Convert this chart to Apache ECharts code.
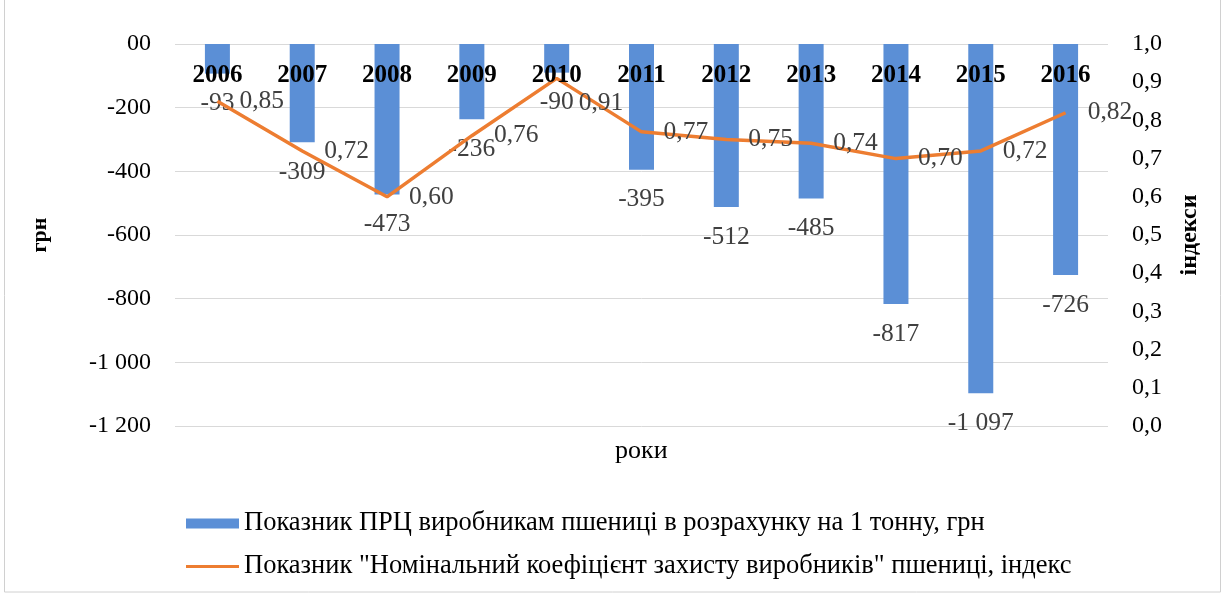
<!DOCTYPE html>
<html>
<head>
<meta charset="utf-8">
<script src="https://cdn.jsdelivr.net/npm/echarts@6/dist/echarts.min.js"></script>
<style>
html,body{margin:0;padding:0;background:#fff;}
#chart{width:1226px;height:597px;}
</style>
</head>
<body>
<div id="chart"></div>
<script>
var years = ['2006','2007','2008','2009','2010','2011','2012','2013','2014','2015','2016'];
var prcValues = [-93, -309, -473, -236, -90, -395, -512, -485, -817, -1097, -726];
var nkzValues = [0.85, 0.72, 0.60, 0.76, 0.91, 0.77, 0.75, 0.74, 0.70, 0.72, 0.82];
var leftTickLabels = ['00', '-200', '-400', '-600', '-800', '-1 000', '-1 200'];
var barName = 'Показник ПРЦ виробникам пшениці в розрахунку на 1 тонну, грн';
var lineName = 'Показник "Номінальний коефіцієнт захисту виробників" пшениці, індекс';

var FONT = '"Liberation Serif", "DejaVu Serif", serif';

function fmtThousands(v) {
  var s = String(Math.abs(v));
  s = s.replace(/\B(?=(\d{3})+(?!\d))/g, ' ');
  return (v < 0 ? '-' : '') + s;
}

// the 2010 index label sits lower in the original (pushed down by the peak)
var lineData = nkzValues.map(function (v, i) {
  if (i === 4) return { value: v, label: { offset: [0, 25] } };
  return v;
});

var chart = echarts.init(document.getElementById('chart'));
chart.setOption({
  backgroundColor: '#ffffff',
  animation: false,
  textStyle: { fontFamily: FONT },
  grid: { left: 175, right: 118, top: 44, bottom: 171, containLabel: false },
  legend: {
    orient: 'vertical',
    left: 181,
    top: 505,
    itemWidth: 53,
    itemHeight: 10,
    itemGap: 16,
    textStyle: { fontFamily: FONT, fontSize: 26.5, color: '#000' },
    data: [
      { name: barName, icon: 'rect' },
      { name: lineName, icon: 'path://M0,0 L106,0 L106,6 L0,6 Z' }
    ]
  },
  xAxis: {
    type: 'category',
    data: years,
    position: 'top',
    z: 5,
    axisLine: { show: false, onZero: false },
    axisTick: { show: false },
    axisLabel: { inside: true, fontFamily: FONT, fontSize: 25, fontWeight: 'bold', color: '#000', margin: 19 },
    splitLine: { show: false }
  },
  yAxis: [
    {
      type: 'value',
      min: -1200,
      max: 0,
      interval: 200,
      name: 'грн',
      nameLocation: 'middle',
      nameRotate: 90,
      nameGap: 124,
      nameTextStyle: { fontFamily: FONT, fontSize: 22, fontWeight: 'bold', color: '#000' },
      axisLine: { show: false },
      axisTick: { show: false },
      axisLabel: {
        fontFamily: FONT, fontSize: 24, color: '#000', margin: 24,
        formatter: function (v) { return leftTickLabels[Math.round(-v / 200)]; }
      },
      splitLine: { show: true, lineStyle: { color: '#d9d9d9', width: 1 } }
    },
    {
      type: 'value',
      min: 0,
      max: 1,
      interval: 0.1,
      position: 'right',
      name: 'індекси',
      nameLocation: 'middle',
      nameRotate: 90,
      nameGap: 70,
      nameTextStyle: { fontFamily: FONT, fontSize: 24, fontWeight: 'bold', color: '#000' },
      axisLine: { show: false },
      axisTick: { show: false },
      axisLabel: {
        fontFamily: FONT, fontSize: 24, color: '#000', margin: 24,
        formatter: function (v) { return v.toFixed(1).replace('.', ','); }
      },
      splitLine: { show: false }
    }
  ],
  series: [
    {
      name: barName,
      type: 'bar',
      yAxisIndex: 0,
      data: prcValues,
      barWidth: 25,
      itemStyle: { color: '#5B8FD6' },
      label: {
        show: true,
        position: 'bottom',
        distance: 17,
        fontFamily: FONT,
        fontSize: 25.5,
        color: '#404040',
        formatter: function (p) { return fmtThousands(p.value); }
      }
    },
    {
      name: lineName,
      type: 'line',
      yAxisIndex: 1,
      data: lineData,
      symbol: 'circle',
      symbolSize: 0.1,
      showSymbol: true,
      z: 4,
      lineStyle: { color: '#ED7D31', width: 3.5 },
      itemStyle: { color: '#ED7D31' },
      label: {
        show: true,
        position: 'right',
        distance: 22,
        fontFamily: FONT,
        fontSize: 25.5,
        color: '#404040',
        formatter: function (p) { return p.value.toFixed(2).replace('.', ','); }
      }
    }
  ],
  graphic: [
    {
      type: 'text',
      left: 615,
      top: 438,
      style: { text: 'роки', font: '26px ' + FONT, fill: '#000' }
    },
    {
      type: 'rect',
      shape: { x: 4.5, y: -5, width: 1216, height: 597 },
      style: { fill: 'none', stroke: '#d0d0d0', lineWidth: 1 },
      silent: true
    }
  ]
});
</script>
</body>
</html>
